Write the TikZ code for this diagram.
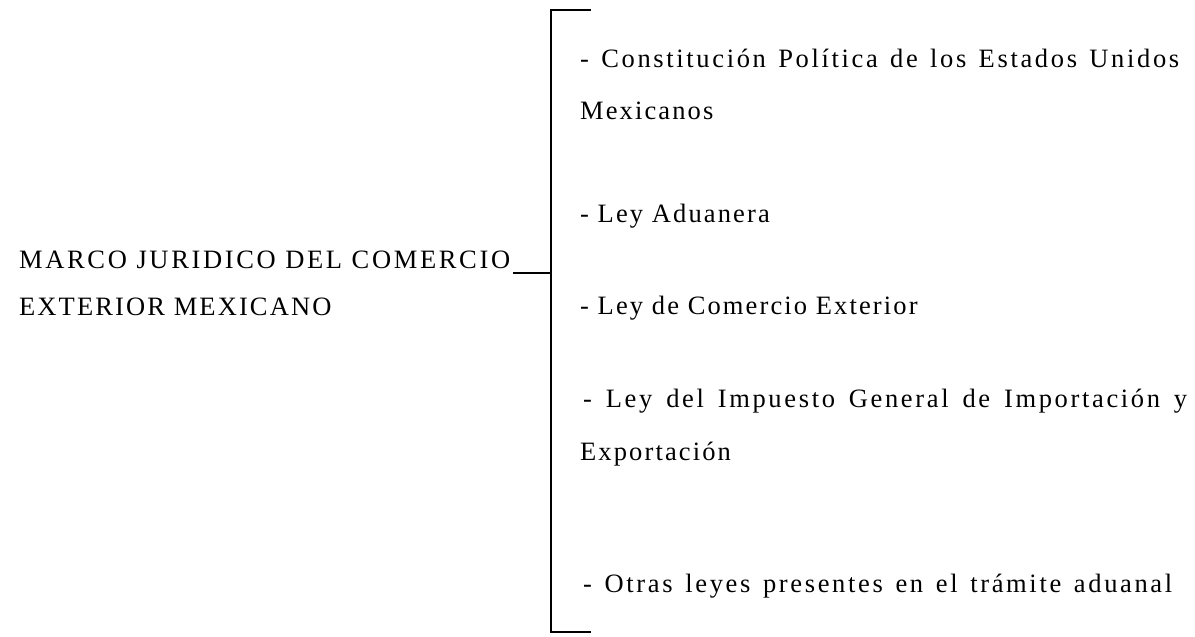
\documentclass[tikz,border=0pt]{standalone}
\usepackage{fontspec}
\setmainfont{Liberation Serif}[LetterSpace=8]
\newfontfamily\widefont{Liberation Serif}[LetterSpace=10]
\begin{document}
\begin{tikzpicture}[x=1pt,y=-1pt,
  txt/.style={anchor=base west,inner sep=0pt,font=\fontsize{26.5}{30}\selectfont},
  wtxt/.style={anchor=base west,inner sep=0pt,font=\fontsize{26.5}{30}\widefont},
  brk/.style={line width=2pt}]
\useasboundingbox (0,0) rectangle (1195,637);
\node[wtxt] (t1) at (19,268) {\makebox[491pt][s]{MARCO JURIDICO DEL COMERCIO}};
\node[txt] (t2) at (19,315) {EXTERIOR MEXICANO};
\node[wtxt] (a1) at (580,67) {\makebox[599pt][s]{- Constitución Política de los Estados Unidos}};
\node[txt] (a2) at (580,119) {Mexicanos};
\node[txt] (b) at (580,222) {- Ley Aduanera};
\node[txt] (c) at (580,314) {- Ley de Comercio Exterior};
\node[wtxt] (d1) at (583,407) {\makebox[604pt][s]{- Ley del Impuesto General de Importación y}};
\node[txt] (d2) at (580,460) {Exportación};
\node[wtxt] (e) at (583,592) {\makebox[589pt][s]{- Otras leyes presentes en el trámite aduanal}};
\coordinate (top) at (591,10);
\coordinate (topc) at (551,10);
\coordinate (bot) at (591,632);
\coordinate (botc) at (551,632);
\coordinate (mid) at (551,273);
\coordinate (tstart) at (513,273);
\draw[brk] (top) -- (topc) -- (botc) -- (bot);
\draw[brk] (tstart) -- (mid);
\end{tikzpicture}
\end{document}
